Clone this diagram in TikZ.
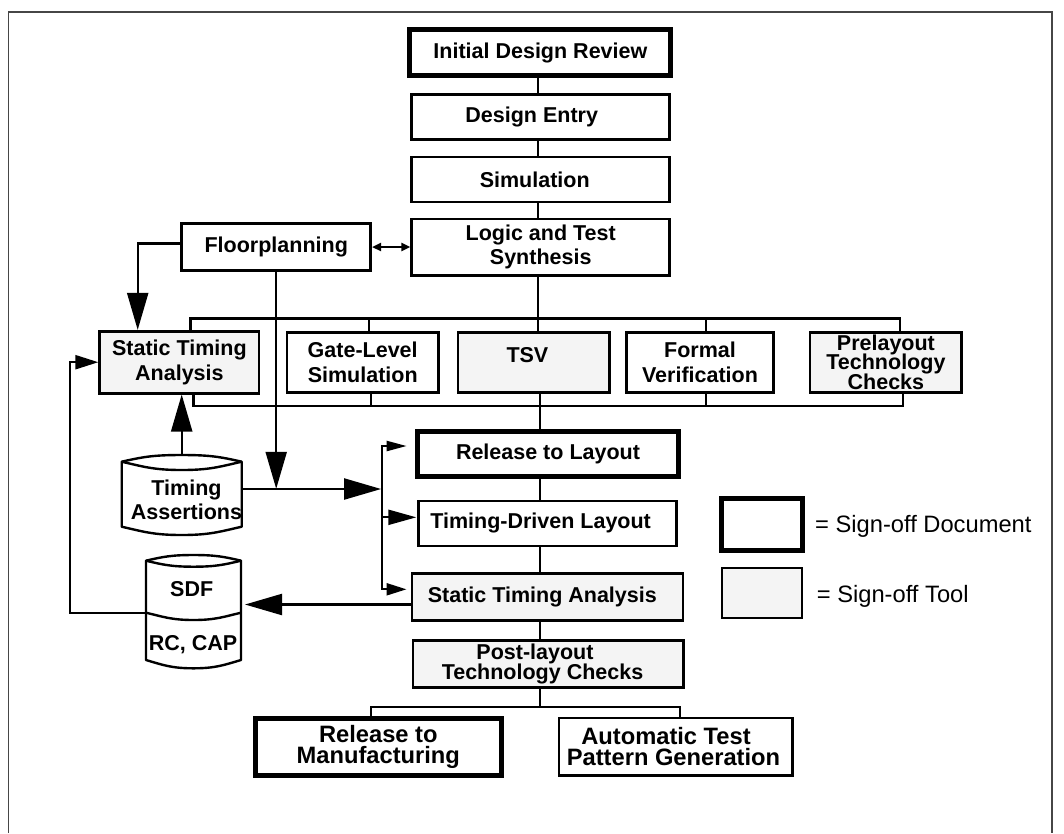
\documentclass[tikz,border=0pt]{standalone}
\usepackage{fontspec}
\setmainfont{Liberation Sans}
\usetikzlibrary{arrows.meta,calc}
\definecolor{toolgray}{RGB}{244,244,244}
\definecolor{framegray}{RGB}{70,70,70}
% let tight baselines win over \lineskip
\newcommand{\noskiplimit}{\lineskiplimit -30pt\relax}
\newcommand{\boxfont}[1]{\bfseries\fontsize{21.5}{#1}\selectfont\noskiplimit}
\newcommand{\bigboxfont}[1]{\bfseries\fontsize{23.7}{#1}\selectfont\noskiplimit}
\begin{document}
\begin{tikzpicture}[x=1pt,y=-1pt,
  lbl/.style={font=\boxfont{25}, align=center, inner sep=0pt},
  box/.style={lbl, draw, line width=2.6pt, fill=white},
  docbox/.style={box, line width=5pt},
  toolbox/.style={box, fill=toolgray},
  tight/.style={font=\boxfont{19.6}},
  cyl/.style={inner sep=0pt, outer sep=0pt},
  cylline/.style={line width=2.4pt, line join=round},
  wire/.style={line width=2.2pt},
  bigarrow/.style={wire, -{Triangle[length=37pt,width=21pt]}},
  fbarrow/.style={wire, -{Triangle[length=23pt,width=14pt]}},
  legtext/.style={font=\fontsize{23.7}{28}\selectfont, inner sep=0pt, anchor=base west}
]
% page and frame
\fill[white] (0,0) rectangle (1064,833);
\draw[framegray, line width=1.4pt] (8.5,833) -- (8.5,12) -- (1052,12) -- (1052,833);

% main flow, upper part
\node[docbox, minimum width=261pt, minimum height=46pt] (idr) at (540.4,52.5) {Initial Design Review};
\node[box, minimum width=258pt, minimum height=45pt] (de) at (540.7,117) {Design Entry\hspace*{18pt}};
\node[box, minimum width=258pt, minimum height=45pt] (sim) at (540.7,179.4) {Simulation\hspace*{12pt}};
\node[box, minimum width=258pt, minimum height=56.5pt, font=\boxfont{24}] (lts) at (540.7,247.3) {Logic and Test\\Synthesis};
\node[box, minimum width=189pt, minimum height=47.5pt] (fp) at (276.2,247) {Floorplanning};

% sign-off row
\node[toolbox, minimum width=159.5pt, minimum height=62pt] (sta1) at (179.4,362.2) {Static Timing\\Analysis};
\node[box, minimum width=151.5pt, minimum height=60pt] (gls) at (362.7,362.3) {Gate-Level\\Simulation};
\node[toolbox, minimum width=151.5pt, minimum height=60pt, text depth=14pt] (tsv) at (533.9,362.3) {TSV\hspace*{13pt}};
\node[box, minimum width=147.5pt, minimum height=60pt] (fv) at (700,362.3) {Formal\\Verification};
\node[toolbox, tight, minimum width=151.5pt, minimum height=60pt] (plt) at (885.9,362.3) {Prelayout\\Technology\\Checks};

% layout part
\node[docbox, minimum width=261.7pt, minimum height=44.6pt] (rtl) at (548,453.8) {Release to Layout};
\node[box, minimum width=258pt, minimum height=45pt] (tdl) at (547.6,523.3) {Timing-Driven Layout\hspace*{14pt}};
\node[toolbox, minimum width=271pt, minimum height=47pt] (sta2) at (547.3,596.8) {Static Timing Analysis\hspace*{10pt}};
\node[toolbox, tight, minimum width=270.7pt, minimum height=47pt] (pltc) at (548.3,664.2) {Post-layout\hspace*{26.6pt}\\Technology Checks\hspace*{11.6pt}};
\node[docbox, minimum width=246.3pt, minimum height=56.7pt, font=\bigboxfont{21.7}] (rtm) at (378.3,746.8) {Release to\\Manufacturing};
\node[box, minimum width=233.6pt, minimum height=57.2pt, font=\bigboxfont{21.7}] (atpg) at (675.9,746.6) {Automatic Test\hspace*{19.8pt}\\Pattern Generation\hspace*{4.8pt}};

% legend
\node[docbox, minimum width=81.3pt, minimum height=52pt] (legd) at (762.2,524.2) {};
\node[toolbox, minimum width=80pt, minimum height=50pt] (legt) at (762,593) {};
\node[legtext] (legdoc) at (815,532.5) {= Sign-off Document};
\node[legtext] (legtool) at (816.7,602.5) {= Sign-off Tool};

% data stores
\node[cyl, minimum width=120pt, minimum height=65pt] (ta) at (181.7,494.2) {};
\node[lbl, font=\boxfont{24}] (talbl) at (186.5,499.7) {Timing\\Assertions};
\node[cyl, minimum width=95pt, minimum height=99.3pt] (sdf) at (193.5,610.35) {};
\node[lbl] (sdflbl) at (191.7,589) {SDF};
\node[lbl] (rclbl) at (193,644.5) {RC, CAP};

% Timing Assertions cylinder
\draw[cylline] (ta.north west)
  .. controls +(22,-5) and +(-28,0) .. ($(ta.north)+(0,-6.7)$)
  .. controls +(28,0) and +(-22,-5) .. (ta.north east)
  -- (ta.south east)
  .. controls +(-22,5) and +(28,0) .. ($(ta.south)+(0,8.3)$)
  .. controls +(-28,0) and +(22,5) .. (ta.south west)
  -- cycle;
\draw[cylline] (ta.north west)
  .. controls +(22,5) and +(-28,0) .. ($(ta.north)+(0,8.3)$)
  .. controls +(28,0) and +(-22,5) .. (ta.north east);

% SDF / RC, CAP cylinder
\coordinate (dl) at ($(sdf.west)+(0,2.35)$);
\coordinate (dr) at ($(sdf.east)+(0,2.35)$);
\coordinate (dv) at ($(sdf.center)+(0,9.65)$);
\draw[cylline] (sdf.north west)
  .. controls +(17,-4) and +(-22,0) .. ($(sdf.north)+(0,-5.7)$)
  .. controls +(22,0) and +(-17,-4) .. (sdf.north east)
  -- (sdf.south east)
  .. controls +(-17,5) and +(22,0) .. ($(sdf.south)+(0,8.3)$)
  .. controls +(-22,0) and +(17,5) .. (sdf.south west)
  -- cycle;
\draw[cylline] (sdf.north west)
  .. controls +(17,4) and +(-22,0) .. ($(sdf.north)+(0,6)$)
  .. controls +(22,0) and +(-17,4) .. (sdf.north east);
\draw[cylline] (dl) .. controls +(17,4) and +(-22,0) .. (dv)
  .. controls +(22,0) and +(-17,4) .. (dr);

% main spine
\coordinate (sp1) at (538,0);
\coordinate (sp2) at (540,0);
\draw[wire] (idr.south -| sp1) -- (de.north -| sp1);
\draw[wire] (de.south -| sp1) -- (sim.north -| sp1);
\draw[wire] (sim.south -| sp1) -- (lts.north -| sp1);

% fan-out bus to the sign-off row
\coordinate (ta1) at (190.5,318.5);
\coordinate (ta2) at (369.3,318.5);
\coordinate (ta3) at (538,318.5);
\coordinate (ta4) at (706,318.5);
\coordinate (ta5) at (900,318.5);
\draw[wire] (ta1 |- sta1.north) -- (ta1) -- (ta5) -- (ta5 |- plt.north);
\draw[wire] (ta2) -- (ta2 |- gls.north);
\draw[wire] (ta4) -- (ta4 |- fv.north);
\draw[wire] (lts.south -| ta3) -- (ta3 |- tsv.north);

% fan-in bus from the sign-off row
\coordinate (tb1) at (193.4,406);
\coordinate (tb2) at (371,406);
\coordinate (tb3) at (540,406);
\coordinate (tb4) at (706,406);
\coordinate (tb5) at (902.7,406);
\draw[wire] (tb1 |- sta1.south) -- (tb1) -- (tb5) -- (tb5 |- plt.south);
\draw[wire] (tb2 |- gls.south) -- (tb2);
\draw[wire] (tb4 |- fv.south) -- (tb4);
\draw[wire] (tb3 |- tsv.south) -- (tb3 |- rtl.north);

% lower spine
\draw[wire] (rtl.south -| sp2) -- (tdl.north -| sp2);
\draw[wire] (tdl.south -| sp2) -- (sta2.north -| sp2);
\draw[wire] (sta2.south -| sp2) -- (pltc.north -| sp2);
\coordinate (sl) at (370.7,706.7);
\coordinate (sr) at (680,706.7);
\draw[wire] (pltc.south -| sp2) -- (sp2 |- sl);
\draw[wire] (sl |- rtm.north) -- (sl) -- (sr) -- (sr |- atpg.north);

% floorplanning links
\draw[wire, {Triangle[length=9pt,width=8pt]}-{Triangle[length=9pt,width=8pt]}] (fp.east) -- (fp.east -| lts.west);
\coordinate (fpl) at (137.7,0);
\draw[bigarrow] ([yshift=3.6pt]fp.west) -| (fpl |- sta1.north);
\coordinate (taline) at (0,488.8);
\draw[bigarrow] (fp.south) -- (fp.south |- taline);

% timing assertions links
\coordinate (br) at (381.7,446);
\coordinate (brm) at (381.7,517.3);
\coordinate (brb) at (381.7,589.3);
\draw[bigarrow] ($(ta.north)+(0,-6.7)$) -- (ta.north |- sta1.south);
\draw[bigarrow, shorten >=0.6pt] ([yshift=5.2pt]ta.east) -- ([yshift=5.2pt]ta.east -| br);
\draw[wire, {Triangle[length=20pt,width=10pt]}-{Triangle[length=20pt,width=12pt]}, shorten <=8pt, shorten >=4pt]
  (br -| rtl.west) -- (br) -- (brb) -- (brb -| sta2.west);
\draw[wire, -{Triangle[length=28pt,width=15pt]}, shorten >=1pt] (brm) -- (brm -| tdl.west);

% back-annotation loop
\draw[bigarrow, shorten >=4pt] ([yshift=-7.7pt]sta2.west) -- ([yshift=-7.7pt]sta2.west -| sdf.east);
\coordinate (fb) at (70.3,0);
\draw[fbarrow] (dl) -| (fb |- sta1.west) -- (sta1.west);
\end{tikzpicture}
\end{document}
